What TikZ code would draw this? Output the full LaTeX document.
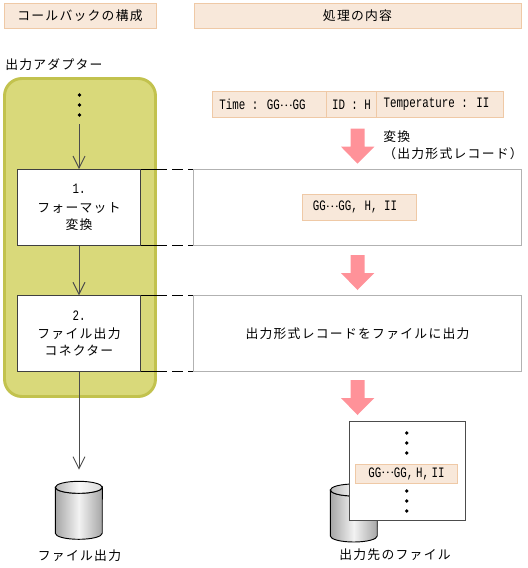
\documentclass[tikz,border=0pt]{standalone}
\usepackage{fontspec}
\setmainfont{Noto Sans CJK JP}[LetterSpace=10]
\newfontfamily\latfont[FakeStretch=0.75]{Liberation Mono}
\usetikzlibrary{arrows.meta}
\definecolor{headfill}{HTML}{F8E8DA}
\definecolor{headline}{HTML}{EFC9A6}
\definecolor{olivefill}{HTML}{D9D97A}
\definecolor{oliveline}{HTML}{C2C24E}
\definecolor{pinkarrow}{HTML}{FF9299}
\newcommand{\jpsize}{\fontsize{9.6pt}{13pt}\selectfont}
\newcommand{\latsize}{\fontsize{10.8pt}{13pt}\selectfont\latfont}
\newcommand{\gdots}{\raisebox{2.6pt}{\fontsize{9pt}{13pt}\selectfont\rmfamily …}}
\tikzset{
  tag/.style={draw=headline, fill=headfill, line width=0.6pt, inner sep=0pt, font=\jpsize},
  unit/.style={draw=black!75, fill=white, line width=0.7pt, inner sep=0pt, align=center, font=\jpsize},
  work/.style={draw=black!30, fill=white, line width=0.7pt, inner sep=0pt, font=\jpsize},
  flow/.style={draw=black!70, line width=0.7pt, -{Straight Barb[length=9pt,width=9pt]}},
  guide/.style={draw=black, line width=0.6pt, dash pattern=on 19.5pt off 3.8pt on 8pt off 3.8pt on 5pt}
}
\begin{document}
\begin{tikzpicture}[x=0.75pt,y=-0.75pt]
  \def\u{0.75pt}
  \useasboundingbox (0,0) rectangle (528,568);
  \node[tag, minimum width=152*\u, minimum height=25*\u] (headcb) at (80,15.5) {コールバックの構成};
  \node[tag, minimum width=327*\u, minimum height=25*\u] (headproc) at (357.5,15.5) {処理の内容};
  \node[anchor=west, inner sep=0pt, font=\jpsize] (adapter) at (5,65) {出力アダプター};
  \fill[olivefill, draw=oliveline, line width=2.2pt, rounded corners=13pt] (4.5,78.5) rectangle (155.5,396.5);
  \foreach \y in {95,105,115}
    \fill (79.5,\y) circle (1.4pt);
  \coordinate (flowtop) at (79,124);
  \node[unit, minimum width=123.5*\u, minimum height=75.5*\u] (fmt) at (79,207.3) {{\latsize 1.}\\[1.5pt]フォーマット\\変換};
  \node[unit, minimum width=123.5*\u, minimum height=75.5*\u] (conn) at (79,333.5) {{\latsize 2.}\\ファイル出力\\コネクター};
  \node[work, minimum width=327.5*\u, minimum height=75.5*\u] (workfmt) at (357.5,207.3) {};
  \node[work, minimum width=327.5*\u, minimum height=75.5*\u] (workconn) at (357.5,333.5) {出力形式レコードをファイルに出力};
  \draw[flow] (flowtop) -- (fmt.north);
  \draw[flow] (fmt.south) -- (conn.north);
  \coordinate (fileend) at (79,469.7);
  \draw[flow] (conn.south) -- (fileend);
  \draw[guide] (fmt.north east) -- (workfmt.north west);
  \draw[guide] (fmt.south east) -- (workfmt.south west);
  \draw[guide] (conn.north east) -- (workconn.north west);
  \draw[guide] (conn.south east) -- (workconn.south west);
  % record before the conversion
  \node[tag, minimum width=114*\u, minimum height=25.5*\u, font=\latsize] (rectime) at (269.5,104.5) {Time : GG\gdots GG\kern10.5pt};
  \node[tag, minimum width=50*\u, minimum height=25.5*\u, font=\latsize] (recid) at (351.5,104.5) {ID : H};
  \node[tag, minimum width=126.5*\u, minimum height=25.5*\u, font=\latsize] (rectemp) at (439.8,104.5) {Temperature : II\kern5pt};
  \node[anchor=west, inner sep=0pt, font=\jpsize] (conv) at (383,137) {変換};
  \node[anchor=west, inner sep=0pt, font=\jpsize] (convfmt) at (383,154) {（出力形式レコード）};
  \node[tag, minimum width=114*\u, minimum height=25.5*\u, font=\latsize] (recout) at (359,207.3) {GG\gdots GG,\kern5pt H,\kern5pt II\kern6pt};
  \foreach \y in {128.7,255,380}
    \fill[pinkarrow] (350.5,\y) -- (364.5,\y) -- (364.5,\y+18) -- (374.3,\y+18)
      -- (357.5,\y+35) -- (341,\y+18) -- (350.5,\y+18) -- cycle;
  % files
  \foreach \x/\y in {78.8/481.3,353.8/484}
  {
    \draw[line width=0.7pt, left color=black!35, right color=black!35, middle color=black!5]
      (\x-23.5,\y+6) -- (\x-23.5,\y+52) arc[start angle=180, end angle=360, x radius=17.6pt, y radius=4.5pt]
      -- (\x+23.5,\y+6) arc[start angle=0, end angle=-180, x radius=17.6pt, y radius=4.5pt] -- cycle;
    \draw[line width=0.7pt, left color=black!28, right color=black!14, middle color=black!3]
      (\x,\y+6) ellipse (17.6pt and 4.5pt);
  }
  \node[inner sep=0pt, font=\jpsize] (filea) at (79.5,556) {ファイル出力};
  \node[inner sep=0pt, font=\jpsize] (fileb) at (395,554.7) {出力先のファイル};
  \node[draw=black!70, fill=white, line width=0.8pt, inner sep=0pt, minimum width=116.3*\u, minimum height=98.7*\u] (sheet) at (407.2,470.7) {};
  \foreach \y in {433,443,453,491,501,511}
    \fill (406.7,\y) circle (1.4pt);
  \node[tag, minimum width=102.4*\u, minimum height=18.7*\u, font=\latsize] (recfile) at (406.5,473.7) {GG\gdots GG,\kern2pt H,\kern2pt II};
\end{tikzpicture}
\end{document}
